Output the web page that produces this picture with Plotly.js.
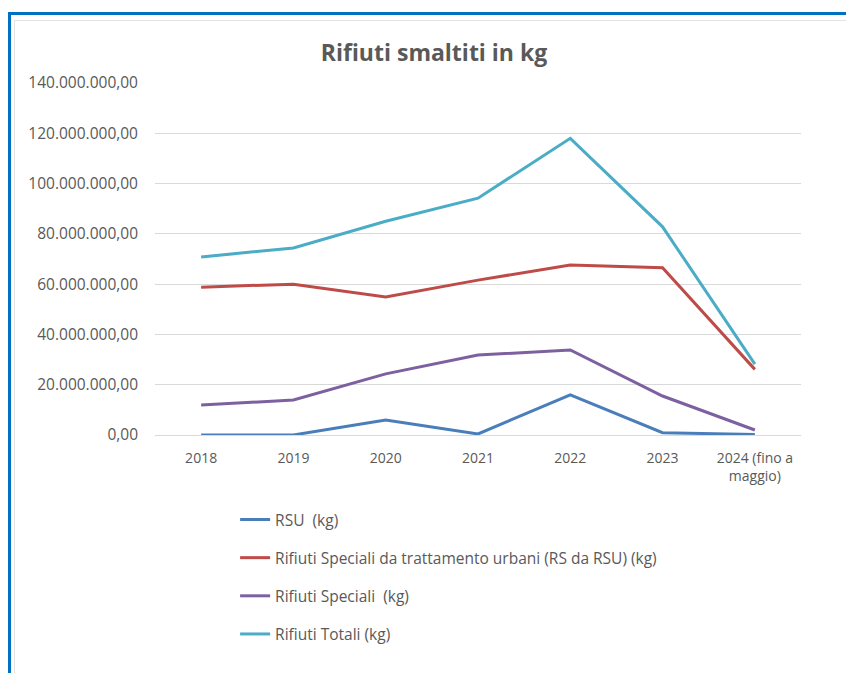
<!DOCTYPE html>
<html><head><meta charset="utf-8">
<script src="https://cdn.plot.ly/plotly-3.0.1.min.js"></script>
<style>
html,body{margin:0;padding:0;background:#fff;width:846px;height:673px;overflow:hidden}
#frame{position:absolute;left:8px;top:12px;width:846px;height:680px;border-left:3px solid #0070C0;border-top:3px solid #0070C0;pointer-events:none;z-index:5}
#inner{position:absolute;left:14px;top:20px;width:840px;height:660px;border-left:1px solid #e4e4e4;border-top:1px solid #e4e4e4;pointer-events:none;z-index:4}
#chart{position:absolute;left:0;top:0;width:846px;height:673px}
</style></head>
<body>
<div id="chart"></div>
<div id="frame"></div>
<div id="inner"></div>
<script>
const categories = ["2018","2019","2020","2021","2022","2023","2024 (fino a<br>maggio)"];
const rsu = [0, 0, 6000000, 400000, 16000000, 900000, 200000];
const rsDaRsu = [58800000, 60000000, 54900000, 61600000, 67600000, 66500000, 26100000];
const rifiutiSpeciali = [11900000, 13900000, 24300000, 31800000, 33800000, 15500000, 2000000];
const rifiutiTotali = [70800000, 74400000, 85000000, 94200000, 118000000, 82800000, 28200000];
const seriesNames = ["RSU  (kg)", "Rifiuti Speciali da trattamento urbani (RS da RSU) (kg)", "Rifiuti Speciali  (kg)", "Rifiuti Totali (kg)"];
const colors = ["#4A7EBB", "#BE4B48", "#7D60A0", "#4BACC6"];
const yTicks = [0, 20000000, 40000000, 60000000, 80000000, 100000000, 120000000, 140000000];

const seriesData = [rsu, rsDaRsu, rifiutiSpeciali, rifiutiTotali];
const traces = seriesData.map((d, i) => ({
  type: "scatter", mode: "lines", x: categories, y: d, name: seriesNames[i],
  legendgroup: "g" + i,
  line: {color: colors[i], width: 3}
}));

const font = "Open Sans, Calibri, Arial, sans-serif";
Plotly.newPlot("chart", traces, {
  width: 846, height: 673,
  paper_bgcolor: "#fff", plot_bgcolor: "#fff",
  separators: ",.",
  margin: {l: 155, r: 45, t: 83, b: 238},
  title: {text: "<b>Rifiuti smaltiti in kg</b>", x: 0.513, xanchor: "center", y: 0.921, yanchor: "middle",
          font: {family: font, size: 23, color: "#595959"}},
  xaxis: {type: "category", range: [-0.5, 6.5], showgrid: false, showline: true, linecolor: "#d9d9d9", linewidth: 1,
          ticks: "", ticklabelstandoff: 10, tickfont: {family: font, size: 14, color: "#595959"}, zeroline: false, fixedrange: true},
  yaxis: {range: [0, 140000000], tickvals: yTicks, tickformat: ",.2f", showgrid: true, gridcolor: "#d9d9d9", gridwidth: 1,
          zeroline: false, showline: false, ticks: "", ticklen: 0, ticklabelstandoff: 16,
          tickfont: {family: font, size: 15.5, color: "#595959"}, fixedrange: true},
  showlegend: true,
  legend: {x: 0.124, y: -0.193, xanchor: "left", yanchor: "top", orientation: "v", traceorder: "grouped", tracegroupgap: 15,
           font: {family: font, size: 15.5, color: "#595959"}, bgcolor: "rgba(0,0,0,0)"}
}, {displayModeBar: false, staticPlot: true});
</script>
</body></html>
